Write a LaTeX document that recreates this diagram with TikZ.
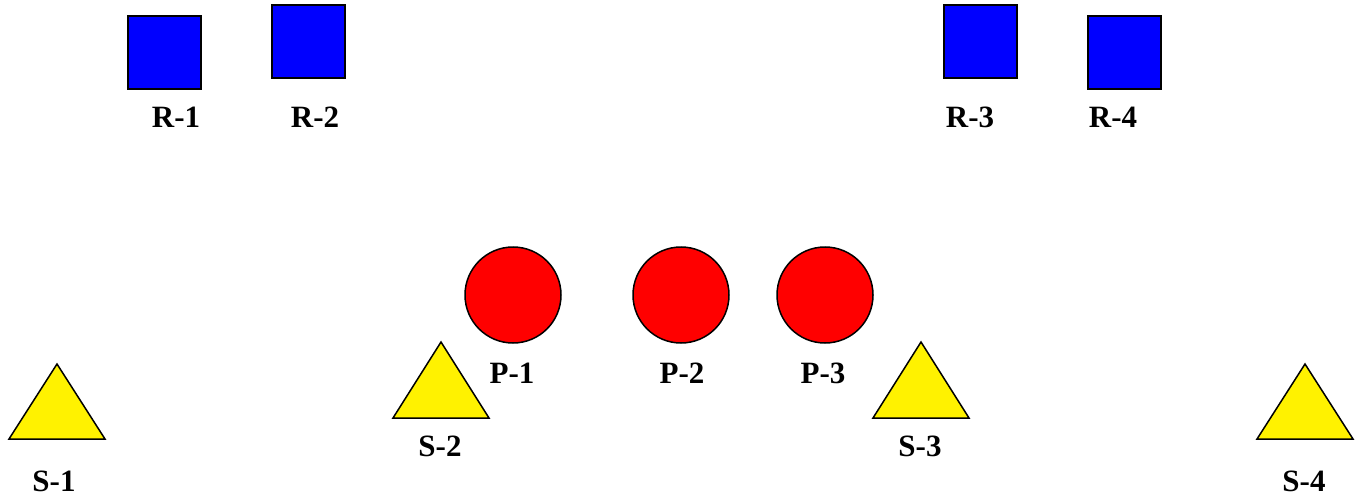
\documentclass[tikz,border=0pt]{standalone}
\usepackage{fontspec}
\setmainfont{Liberation Serif}
\begin{document}
\begin{tikzpicture}[x=1pt,y=-1pt,
  lbl/.style={font=\fontsize{31}{31}\selectfont\bfseries, inner sep=0pt},
  sq/.style={draw=black, fill=blue, line width=1.5pt},
  circ/.style={draw=black, fill=red, line width=1.5pt},
  tri/.style={draw=black, fill=yellow, line width=1.5pt, line join=miter}]
\useasboundingbox (0,0) rectangle (1359,497);
% squares
\draw[sq] (128,16) rectangle (201,89);
\draw[sq] (272,5) rectangle (345,78);
\draw[sq] (944,5) rectangle (1017,78);
\draw[sq] (1088,16) rectangle (1161,89);
\node[lbl] (r1) at (176,117) {R-1};
\node[lbl] (r2) at (315,117) {R-2};
\node[lbl] (r3) at (970,117) {R-3};
\node[lbl] (r4) at (1113,117) {R-4};
% circles
\draw[circ] (513,295) circle (48);
\draw[circ] (681,295) circle (48);
\draw[circ] (825,295) circle (48);
\node[lbl] (p1) at (512,373) {P-1};
\node[lbl] (p2) at (682,373) {P-2};
\node[lbl] (p3) at (823,373) {P-3};
% triangles
\draw[tri] (57,364) -- (105,439) -- (9,439) -- cycle;
\draw[tri] (441,342) -- (489,418) -- (393,418) -- cycle;
\draw[tri] (921,342) -- (969,418) -- (873,418) -- cycle;
\draw[tri] (1305,364) -- (1353,439) -- (1257,439) -- cycle;
\node[lbl] (s1) at (54,481) {S-1};
\node[lbl] (s2) at (440,446) {S-2};
\node[lbl] (s3) at (920,446) {S-3};
\node[lbl] (s4) at (1304,481) {S-4};
\end{tikzpicture}
\end{document}
